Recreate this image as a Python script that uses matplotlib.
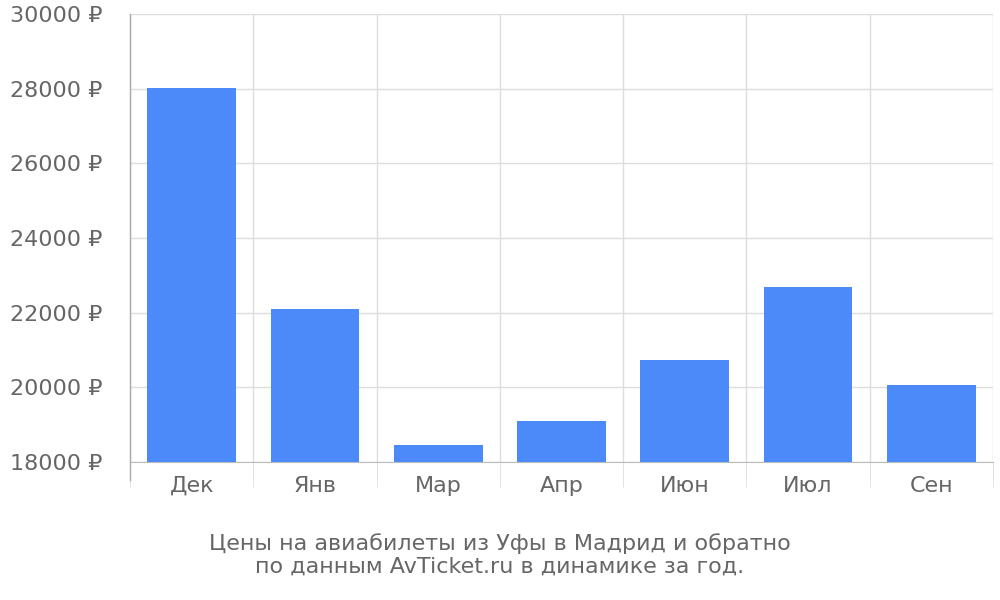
import matplotlib
matplotlib.use("Agg")
import matplotlib.pyplot as plt
import numpy as np

months = ["Дек", "Янв", "Мар", "Апр", "Июн", "Июл", "Сен"]
prices = [28020, 22100, 18450, 19100, 20730, 22690, 20050]
yticks = [18000, 20000, 22000, 24000, 26000, 28000, 30000]

text_color = "#666666"
grid_color = "#dddddd"

fig = plt.figure(figsize=(10, 6), dpi=100)
ax = fig.add_axes([0.13, 0.23, 0.863, 0.747])

x = np.arange(len(months))
ax.bar(x, [p - 18000 for p in prices], bottom=18000, width=0.72,
       color="#4d8af9", zorder=3)

ax.set_xlim(-0.5, len(months) - 0.5)
ax.set_ylim(18000, 30000)
ax.set_yticks(yticks)
ax.set_yticklabels([f"{v} ₽" for v in yticks])
ax.set_xticks(x)
ax.set_xticklabels(months)
ax.set_xticks(np.arange(len(months) + 1) - 0.5, minor=True)

ax.grid(axis="y", color=grid_color, linewidth=1, zorder=0)
ax.grid(axis="x", which="minor", color=grid_color, linewidth=1, zorder=0)
ax.tick_params(axis="x", which="major", length=0, pad=10, labelsize=16, labelcolor=text_color)
ax.tick_params(axis="x", which="minor", length=18, color=grid_color)
ax.tick_params(axis="y", length=0, pad=20, labelsize=16, labelcolor=text_color)

for s in ["top", "right"]:
    ax.spines[s].set_visible(False)
ax.spines["bottom"].set_color("#bbbbbb")
ax.spines["left"].set_visible(False)
ax.plot([0, 0], [-0.04, 1], transform=ax.transAxes, color="#aaaaaa",
        linewidth=1, clip_on=False, zorder=4)

fig.text(0.5, 0.075, "Цены на авиабилеты из Уфы в Мадрид и обратно\nпо данным AvTicket.ru в динамике за год.",
         ha="center", va="center", fontsize=16, color=text_color, linespacing=1.2)

fig.savefig("out.png", dpi=100)
